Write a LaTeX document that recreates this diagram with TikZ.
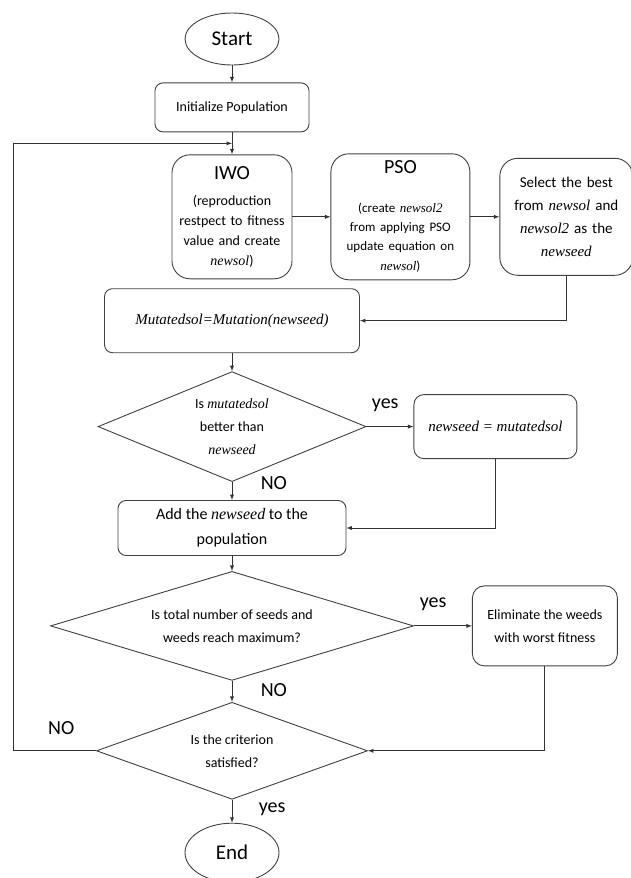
\documentclass[tikz,border=0pt]{standalone}
\usepackage{fontspec}
\setsansfont{Carlito}
\newfontfamily\varfont{Liberation Serif}
\usepackage{tikz}
\usetikzlibrary{shapes.geometric,positioning}

\newcommand{\vname}[1]{{\varfont\itshape #1}}

\begin{document}
\begin{tikzpicture}[x=1pt,y=1pt,>=latex,line width=0.9pt,
  every node/.style={font=\sffamily\fontsize{14}{20}\selectfont,align=center},
  term/.style={draw=black!75,ellipse,inner sep=0pt,minimum width=94pt,minimum height=52pt,font=\sffamily\fontsize{21}{24}\selectfont},
  proc/.style={draw=black!75,rounded corners=8pt,inner sep=4pt},
  test/.style={draw=black!75,diamond,inner sep=0pt,font=\sffamily\fontsize{14}{23}\selectfont},
  answer/.style={font=\sffamily\fontsize{20}{22}\selectfont},
  flow/.style={draw=black!80,->}]
\useasboundingbox (0,0) rectangle (631,-878);
\node[term] (start) at (232,-39) {Start};
\node[proc,below=17pt of start,minimum width=154pt,minimum height=49pt] (init) {Initialize Population};
\coordinate[below=11pt of init] (back);
\node[proc,rounded corners=18pt,below=22pt of init,text width=112pt,minimum height=124pt] (iwo) {{\fontsize{20}{24}\selectfont IWO}\\[6pt](reproduction\\restpect to fitness\\value and create\\\vname{newsol})};
\node[proc,rounded corners=18pt,right=38pt of iwo,text width=131pt,minimum height=126pt] (pso) {{\fontsize{20}{24}\selectfont PSO}\\[20pt]{\fontsize{13}{19}\selectfont (create \vname{newsol2}\\from applying PSO\\update equation on\\\vname{newsol})}};
\node[proc,rounded corners=18pt,right=29pt of pso,text width=125pt,minimum height=117pt,font=\sffamily\fontsize{15}{23}\selectfont] (select) {Select the best\\from \vname{newsol} and\\\vname{newsol2} as the\\\vname{newseed}};
\node[proc,below=9pt of iwo,minimum width=255pt,minimum height=64pt,font=\sffamily\fontsize{15}{20}\selectfont] (mut) {\vname{Mutatedsol=Mutation(newseed)}};
\node[test,aspect=2.44,below=18pt of mut,minimum width=268pt,minimum height=110pt] (d1) {Is \vname{mutatedsol}\\better than\\\vname{newseed}};
\node[proc,rounded corners=10pt,right=47pt of d1,minimum width=163pt,minimum height=64pt,font=\sffamily\fontsize{15}{20}\selectfont] (nseed) {\vname{newseed = mutatedsol}};
\node[proc,below=18pt of d1,minimum width=228pt,minimum height=55pt,font=\sffamily\fontsize{16}{25}\selectfont] (add) {Add the \vname{newseed} to the\\population};
\node[test,aspect=3.33,below=15pt of add,minimum width=363pt,minimum height=109pt] (d2) {Is total number of seeds and\\weeds reach maximum?};
\node[proc,rounded corners=12pt,right=58pt of d2,minimum width=145pt,minimum height=80pt,font=\sffamily\fontsize{14}{23}\selectfont] (elim) {Eliminate the weeds\\with worst fitness};
\node[test,aspect=2.8,below=21pt of d2,minimum width=271pt,minimum height=97pt] (d3) {Is the criterion\\satisfied?};
\node[term,below=23pt of d3,minimum height=59pt] (stop) {End};

\draw[flow] (start) -- (init);
\draw[flow] (init) -- (iwo);
\draw[flow] (iwo) -- (pso);
\draw[flow] (pso) -- (select);
\draw[flow] (select) |- (mut);
\draw[flow] (mut) -- (d1);
\draw[flow] (d1) -- node[answer,above=11pt,pos=0.4] {yes} (nseed);
\draw[flow] (d1) -- node[answer,right=25pt,pos=0.05] {NO} (add);
\draw[flow] (nseed) |- (add);
\draw[flow] (add) -- (d2);
\draw[flow] (d2) -- node[answer,above=11pt,pos=0.33] {yes} (elim);
\draw[flow] (d2) -- node[answer,right=25pt,pos=0.45] {NO} (d3);
\draw[flow] (elim) |- (d3);
\draw[flow] (d3) -- node[answer,right=23pt,pos=0.4] {yes} (stop);
\draw[flow] (d3.west) -- node[answer,above=12pt,pos=0.42] {NO} ++(-83,0) |- (back);
\end{tikzpicture}
\end{document}
